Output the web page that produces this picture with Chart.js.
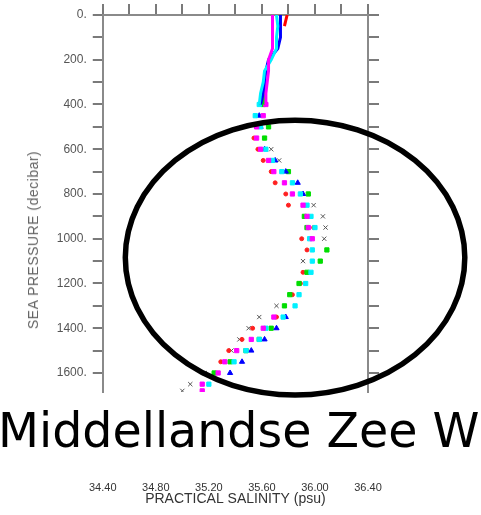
<!DOCTYPE html>
<html>
<head>
<meta charset="utf-8">
<script src="https://cdn.jsdelivr.net/npm/chart.js@4.4.1/dist/chart.umd.min.js"></script>
<style>
  body { margin: 0; background: #fff; }
  #wrap { position: relative; width: 481px; height: 515px; overflow: hidden; }
  #title {
    position: absolute; left: -2px; top: 407px;
    font-family: "DejaVu Sans"; font-size: 47.5px; line-height: 47px;
    color: #000; white-space: nowrap;
  }
  #ytitle {
    position: absolute; left: 33px; top: 240px;
    transform: translate(-50%, -50%) rotate(-90deg);
    font-family: "Liberation Sans"; font-size: 14px; letter-spacing: 0.5px;
    color: #666; white-space: nowrap;
  }
</style>
</head>
<body>
<div id="wrap">
  <canvas id="myChart" width="481" height="515"></canvas>
  <div id="ytitle">SEA PRESSURE (decibar)</div>
  <div id="title">Middellandse Zee W</div>
</div>
<script>
// upper part of the profiles (0 - 400 dbar), drawn as lines
const topPressure = [0, 50, 100, 150, 200, 250, 300, 350, 400];
const topMagenta = [35.68, 35.68, 35.68, 35.68, 35.65, 35.65, 35.64, 35.63, 35.63];
const topCyan    = [35.71, 35.72, 35.71, 35.71, 35.67, 35.62, 35.61, 35.59, 35.58];
const topBlue    = [35.74, 35.74, 35.74, 35.72, 35.65, 35.63, 35.62, 35.61, 35.59];
const topRed     = [35.79, 35.77, null, null, null, null, null, null, null];
const topGreen   = [null, null, null, null, null, null, 35.63, 35.62, 35.61];

// deeper levels (bottle style points)
const levels = [400, 450, 500, 550, 600, 650, 700, 750, 800, 850, 900, 950, 1000, 1050,
                1100, 1150, 1200, 1250, 1300, 1350, 1400, 1450, 1500, 1550, 1600, 1650, 1680];
const redSal     = [null, null, null, 35.54, 35.57, 35.61, 35.67, 35.70, 35.78, 35.80, null, 35.99, 35.90, 35.94,
                    null, 35.91, 35.89, 35.83, null, 35.71, 35.53, 35.45, 35.35, 35.29, null, null, null];
const magentaSal = [35.63, 35.61, 35.56, 35.56, 35.59, 35.65, 35.69, 35.77, 35.83, 35.91, 35.94, 35.95, 35.98, null,
                    null, null, null, null, null, 35.69, 35.61, 35.52, 35.41, 35.32, 35.27, 35.15, 35.15];
const cyanSal    = [35.58, 35.55, 35.59, null, 35.63, 35.68, 35.75, 35.83, 35.89, 35.94, 35.97, 36.00, 35.96, 35.98,
                    35.98, 35.97, 35.93, 35.88, 35.85, 35.76, 35.63, 35.58, 35.48, 35.39, null, 35.20, null];
const blueSal    = [null, 35.58, 35.59, null, 35.62, 35.70, 35.78, 35.87, 35.91, null, null, null, null, null,
                    null, null, null, null, null, 35.78, 35.71, 35.62, 35.52, 35.45, 35.36, null, null];
const greenSal   = [35.61, null, 35.65, 35.62, null, null, 35.80, null, 35.95, null, 35.92, 35.94, null, 36.09,
                    36.04, 35.94, 35.88, 35.81, 35.77, null, 35.67, 35.58, 35.48, 35.36, 35.24, null, null];
const graySal    = [null, null, null, null, 35.67, 35.73, null, null, null, 35.99, 36.06, 36.08, 36.07, null,
                    35.91, null, null, null, 35.71, 35.58, 35.50, 35.43, 35.37, null, 35.17, 35.06, 35.00];

const xTicks = [34.4, 34.8, 35.2, 35.6, 36.0, 36.4];

// the drawn ring, in data units (salinity, pressure)
const ringCenter = [35.85, 1084];
const ringRadius = [1.28, 614];

function pts(sal, pres) {
  return pres.map((p, i) => ({x: sal[i], y: p})).filter(d => d.x !== null);
}

function lineSet(sal, col) {
  return { data: pts(sal, topPressure), showLine: true, borderColor: col, borderWidth: 3,
           pointRadius: 0, xAxisID: 'x', yAxisID: 'y' };
}
function pointSet(sal, col, style, r) {
  return { data: pts(sal, levels), showLine: false, pointStyle: style, pointRadius: r,
           backgroundColor: col, borderColor: col, borderWidth: 1, xAxisID: 'x', yAxisID: 'y' };
}

const ringPlugin = {
  id: 'ring',
  afterDraw(chart) {
    const ctx = chart.ctx;
    const x = chart.scales.x, y = chart.scales.y;
    const cx = x.getPixelForValue(ringCenter[0]);
    const cy = y.getPixelForValue(ringCenter[1]);
    const rx = Math.abs(x.getPixelForValue(ringCenter[0] + ringRadius[0]) - cx);
    const ry = Math.abs(y.getPixelForValue(ringCenter[1] + ringRadius[1]) - cy);
    ctx.save();
    ctx.beginPath();
    ctx.ellipse(cx, cy, rx, ry, 0, 0, 2 * Math.PI);
    ctx.lineWidth = 5.5;
    ctx.strokeStyle = '#000';
    ctx.stroke();
    ctx.restore();
  }
};

const axisGray = '#8a8a8a';
const tickGray = '#7a7a7a';

const ctx = document.getElementById('myChart').getContext('2d');
const myChart = new Chart(ctx, {
  type: 'scatter',
  data: {
    datasets: [
      lineSet(topMagenta, '#ff00ff'),
      lineSet(topCyan, '#00f0ff'),
      lineSet(topBlue, '#0000ff'),
      lineSet(topRed, '#ff0000'),
      lineSet(topGreen, '#00dd00'),
      pointSet(magentaSal, '#ff00ff', 'rect', 3),
      pointSet(cyanSal, '#00f0ff', 'rect', 3),
      pointSet(blueSal, '#0000ff', 'triangle', 3),
      pointSet(greenSal, '#00dd00', 'rect', 3),
      pointSet(redSal, '#ff2020', 'circle', 2),
      pointSet(graySal, '#555555', 'crossRot', 3)
    ]
  },
  options: {
    responsive: false,
    animation: false,
    devicePixelRatio: 1,
    layout: { padding: 0 },
    plugins: { legend: { display: false }, tooltip: { enabled: false } },
    scales: {
      x: {
        type: 'linear', position: 'bottom', min: 34.4, max: 36.4,
        afterBuildTicks: s => { s.ticks = xTicks.map(v => ({value: v})); },
        ticks: { padding: 89, color: '#333', font: { family: 'Liberation Sans', size: 11 },
                 callback: v => v.toFixed(2) },
        grid: { display: false, drawTicks: false },
        border: { display: false },
        title: { display: true, text: 'PRACTICAL SALINITY (psu)', color: '#333',
                 font: { family: 'Liberation Sans', size: 14 }, padding: { top: 0, bottom: 7 } },
        afterFit: s => { s.height = 123; }
      },
      xTop: {
        type: 'linear', position: 'top', min: 34.4, max: 36.4,
        ticks: { stepSize: 0.2, display: false },
        grid: { drawOnChartArea: false, tickLength: 11, color: tickGray, lineWidth: 2 },
        border: { color: axisGray, width: 2 },
        afterFit: s => { s.height = 15; }
      },
      y: {
        type: 'linear', position: 'left', reverse: true, min: 0, max: 1685,
        ticks: { stepSize: 100, includeBounds: false, color: '#555', padding: 6,
                 font: { family: 'Liberation Sans', size: 12 },
                 callback: v => (v % 200 === 0 ? v + '.' : '') },
        grid: { drawOnChartArea: false, tickLength: 10, color: tickGray, lineWidth: 2 },
        border: { color: axisGray, width: 2 },
        afterFit: s => { s.width = 100; }
      },
      yRight: {
        type: 'linear', position: 'right', reverse: true, min: 0, max: 1685,
        ticks: { stepSize: 100, includeBounds: false, display: false },
        grid: { drawOnChartArea: false, tickLength: 11, color: tickGray, lineWidth: 2 },
        border: { color: axisGray, width: 2 },
        afterFit: s => { s.width = 113; }
      }
    }
  },
  plugins: [ringPlugin]
});
</script>
</body>
</html>
